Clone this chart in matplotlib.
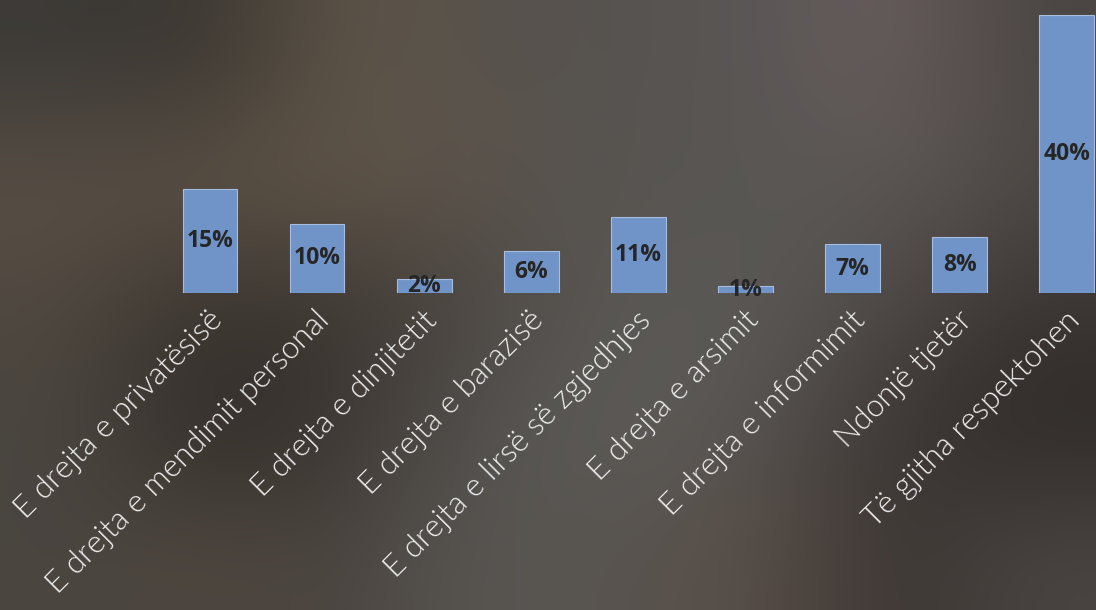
import matplotlib
matplotlib.use("Agg")
import matplotlib.pyplot as plt
import numpy as np

# data
kategorite = ["E drejta e privatësisë", "E drejta e mendimit personal", "E drejta e dinjitetit",
              "E drejta e barazisë", "E drejta e lirsë së zgjedhjes", "E drejta e arsimit",
              "E drejta e informimit", "Ndonjë tjetër", "Të gjitha respektohen"]
vlerat = [15, 10, 2, 6, 11, 1, 7, 8, 40]
etiketat = ["15%", "10%", "2%", "6%", "11%", "1%", "7%", "8%", "40%"]

# background (blurred photo look), colours picked by eye
bg = np.array([
    ["#3c3a37", "#3a3530", "#5e5548", "#58524c", "#565350", "#595655", "#6a5e5e", "#4a4543"],
    ["#5a5046", "#5e5448", "#615548", "#5c544c", "#575451", "#585653", "#5c5856", "#504a46"],
    ["#504840", "#38332e", "#3d3833", "#4d4844", "#5a5855", "#5c5a57", "#4e4946", "#3a3432"],
    ["#4a4640", "#2e2a26", "#3c3631", "#555350", "#5e5c59", "#585552", "#3c3634", "#2e2a28"],
    ["#4a4540", "#504840", "#4a4440", "#5a5854", "#57534f", "#5a4f48", "#3b3532", "#4a4542"],
])
rgb = np.array([[matplotlib.colors.to_rgb(c) for c in row] for row in bg])

fig = plt.figure(figsize=(10.96, 6.10), dpi=100)
bgax = fig.add_axes([0, 0, 1, 1])
bgax.imshow(rgb, aspect="auto", interpolation="bicubic", extent=[0, 1, 0, 1])
bgax.axis("off")

W, H = 1096, 610
x0, step = 210, 107.1
base, ppu = 293, 6.95
ax = fig.add_axes([0, (H - base) / H, 1, base / H])
ax.patch.set_alpha(0)
ax.set_xlim(-x0 / step, (W - x0) / step)
ax.set_ylim(0, base / ppu)
ax.axis("off")

x = np.arange(len(vlerat))
bars = ax.bar(x, vlerat, width=0.51, color="#7094c8", edgecolor="#a7bde0", linewidth=0.8)
for b, t in zip(bars, etiketat):
    ax.text(b.get_x() + b.get_width() / 2, b.get_height() / 2, t, ha="center", va="center",
            fontsize=16.5, fontweight="bold", family="Open Sans", color="#262626")

for i, lab in enumerate(kategorite):
    ax.text(i - 0.02, -1.8, lab, rotation=45, rotation_mode="anchor", ha="right", va="top",
            fontsize=22.5, family="Lato", fontweight=300, color="#eeeeee", clip_on=False)

fig.savefig("out.png", dpi=100)
